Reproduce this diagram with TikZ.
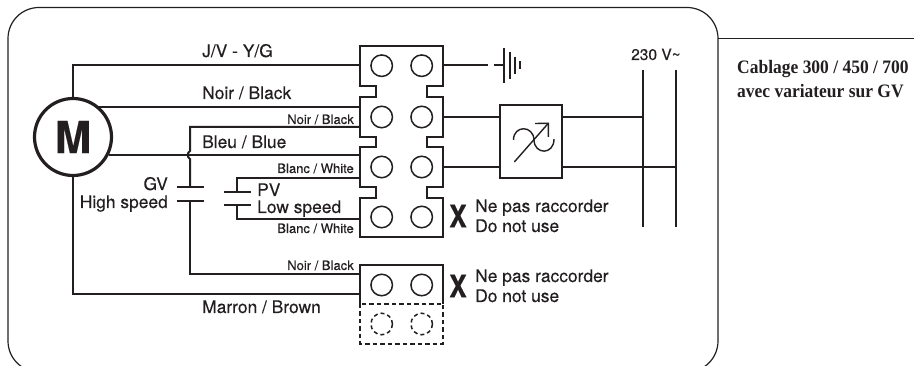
\documentclass[tikz,border=0pt]{standalone}
\usepackage{fontspec}
\setmainfont[FakeBold=0.25]{TeX Gyre Heros}
\newfontfamily\titlefont[FakeStretch=0.92]{Liberation Serif}
\definecolor{ink}{HTML}{231F20}
\tikzset{
  wire/.style = {draw=ink, line width=2pt},
  thin wire/.style = {draw=ink, line width=1.7pt},
  term/.style = {circle, draw=ink, line width=1.5pt, minimum size=21.5pt, inner sep=0pt},
  dashterm/.style = {term, dash pattern=on 4pt off 3pt},
  biglabel/.style = {anchor=base west, inner sep=0pt, text=ink, font=\fontsize{17.4}{20}\selectfont},
  smalllabel/.style = {anchor=base east, inner sep=0pt, text=ink, font=\fontsize{13}{15}\selectfont},
  crossmark/.style = {inner sep=0pt, text=ink, xscale=.85, font=\fontsize{31}{33}\selectfont\bfseries},
}
\begin{document}
\begin{tikzpicture}[x=1pt, y=-1pt]
      \useasboundingbox (0,0) rectangle (914,366);

      \begin{scope}
        \clip (0,0) rectangle (914,366);
        \draw[ink, line width=1.2pt, rounded corners=31pt] (8,7.5) rectangle (718,372);
      \end{scope}
      \coordinate (framecut) at (718,38.5);
      \coordinate (frameend) at (914,38.5);
      \draw[ink, line width=1.5pt] (framecut) -- (frameend);

      \node[circle, draw=ink, line width=3.2pt, minimum size=77pt, inner sep=0pt, text=ink, font=\fontsize{44}{44}\selectfont\bfseries] (motor) at (73,137) {M};

      \coordinate (jv) at (360,65);
      \coordinate (noir) at (360,107);
      \coordinate (gvtop) at (360,127);
      \coordinate (bleu) at (360,155);
      \coordinate (pvtop) at (360,178);
      \coordinate (pvlow) at (360,219);
      \coordinate (gvlow) at (360,274);
      \coordinate (marron) at (360,294);
      \coordinate (gva) at (190,187);
      \coordinate (gvb) at (190,201);
      \coordinate (pva) at (237,192);
      \coordinate (pvb) at (237,205);

      \draw[wire] (motor.north) -- (motor.north |- jv) -- (jv);
      \draw[wire] (motor.51 |- noir) -- (noir);
      \draw[wire] (motor.-27 |- bleu) -- (bleu);
      \draw[wire] (motor.south) -- (motor.south |- marron) -- (marron);
      \draw[wire] (gvtop) -- (gvtop -| gva) -- (190,151) .. controls (187,153) and (187,157) .. (190,159) -- (gva);
      \draw[wire] (gvb) -- (gvb |- gvlow) -- (gvlow);
      \draw[wire] (pvtop) -- (pvtop -| pva) -- (pva);
      \draw[wire] (pvlow) -- (pvlow -| pvb) -- (pvb);

      \draw[wire] ([xshift=-13.5pt]gva) -- ([xshift=13.5pt]gva);
      \draw[wire] ([xshift=-13.5pt]gvb) -- ([xshift=13.5pt]gvb);
      \draw[wire] ([xshift=-13pt]pva) -- ([xshift=13.5pt]pva);
      \draw[wire] ([xshift=-13pt]pvb) -- ([xshift=13.5pt]pvb);

      \draw[thin wire, fill=white, line join=miter] (360,46) -- (443,46) -- (443,86) -- (427,86) -- (427,97) -- (443,97)
        -- (443,137) -- (427,137) -- (427,147) -- (443,147) -- (443,187) -- (427,187) -- (427,198) -- (443,198)
        -- (443,237) -- (360,237) -- (360,198) -- (376,198) -- (376,187) -- (360,187) -- (360,147) -- (376,147)
        -- (376,137) -- (360,137) -- (360,97) -- (376,97) -- (376,86) -- (360,86) -- cycle;
      \draw[thin wire] (360,304) -- (360,265) -- (443,265) -- (443,304);
      \draw[thin wire, dash pattern=on 4.5pt off 3pt] (360,304) rectangle (443,344);

      \foreach \row/\ypos in {a/65.7, b/117, c/167, d/217, e/285}{
          \node[term] (term\row l) at (381.7,\ypos) {};
          \node[term] (term\row r) at (421.7,\ypos) {};
        }
      \node[dashterm] (termfl) at (381.7,324) {};
      \node[dashterm] (termfr) at (421.7,324) {};

      \coordinate (blocka) at (443,65);
      \coordinate (blockb) at (443,117);
      \coordinate (blockc) at (443,167);
      \coordinate (earth) at (488,65);
      \coordinate (earthbar) at (494,65);
      \coordinate (earthplate) at (504,65);
      \draw[wire] (blocka) -- (earth);
      \draw[wire] (earthbar) -- (earthplate);
      \draw[wire] (504,48) -- (504,83);
      \draw[wire] (509.5,52) -- (509.5,79);
      \draw[wire] (515,57) -- (515,74);
      \draw[wire] (520,61.5) -- (520,69.5);

      \node[draw=ink, line width=2pt, minimum width=62pt, minimum height=73pt, inner sep=0pt] (dimmer) at (530.5,142) {};
      \coordinate (mainsa) at (643,117);
      \coordinate (mainsb) at (676,167);
      \draw[wire] (blockb) -- (dimmer.west |- mainsa);
      \draw[wire] (blockc) -- (dimmer.west |- mainsb);
      \draw[wire] (dimmer.east |- mainsa) -- (mainsa);
      \draw[wire] (dimmer.east |- mainsb) -- (mainsb);
      \draw[wire] (mainsa |- 0,70) -- (mainsa |- 0,227);
      \draw[wire] (mainsb |- 0,70) -- (mainsb |- 0,227);

      \draw[ink, line width=1.4pt] (514.3,162) -- (548.3,123.3);
      \draw[ink, line width=1.4pt] (535,123.5) -- (548.3,123.3) -- (548.3,137);
      \draw[ink, line width=1.4pt] (513.5,140) .. controls (513.5,125) and (533.5,125) .. (534,140) .. controls (534.5,155) and (554,155) .. (554,139);

      \node[biglabel] (jvlabel) at (202,57) {J/V - Y/G};
      \node[biglabel] (noirlabel) at (202,99) {Noir / Black};
      \node[biglabel] (bleulabel) at (202,148) {Bleu / Blue};
      \node[biglabel] (marronlabel) at (202,313) {Marron / Brown};
      \node[biglabel] (pvlabel) at (257,196) {PV};
      \node[biglabel] (lowlabel) at (257,213) {Low speed};
      \node[biglabel, anchor=base east] (gvlabel) at (168,190) {GV};
      \node[biglabel, anchor=base east] (highlabel) at (168,208) {High speed};

      \node[smalllabel] (smalla) at (354,124) {Noir / Black};
      \node[smalllabel] (smallb) at (354,173) {Blanc / White};
      \node[smalllabel] (smallc) at (354,233) {Blanc / White};
      \node[smalllabel] (smalld) at (354,270) {Noir / Black};

      \node[crossmark] (xa) at (458,216) {X};
      \node[crossmark] (xb) at (458,286) {X};
      \node[biglabel] (nea) at (475,212) {Ne pas raccorder};
      \node[biglabel] (doa) at (475,232) {Do not use};
      \node[biglabel] (neb) at (475,282) {Ne pas raccorder};
      \node[biglabel] (dob) at (475,302) {Do not use};
      \node[biglabel, font=\fontsize{15.5}{18}\selectfont] (volt) at (631,60) {230 V\raisebox{0pt}{\char`\~}};

      \node[anchor=base west, inner sep=0pt, text=ink, font=\titlefont\fontsize{19}{22}\selectfont\bfseries] (titlea) at (737,74) {Cablage 300 / 450 / 700};
      \node[anchor=base west, inner sep=0pt, text=ink, font=\titlefont\fontsize{19}{22}\selectfont\bfseries] (titleb) at (737,98) {avec variateur sur GV};
    \end{tikzpicture}
\end{document}
